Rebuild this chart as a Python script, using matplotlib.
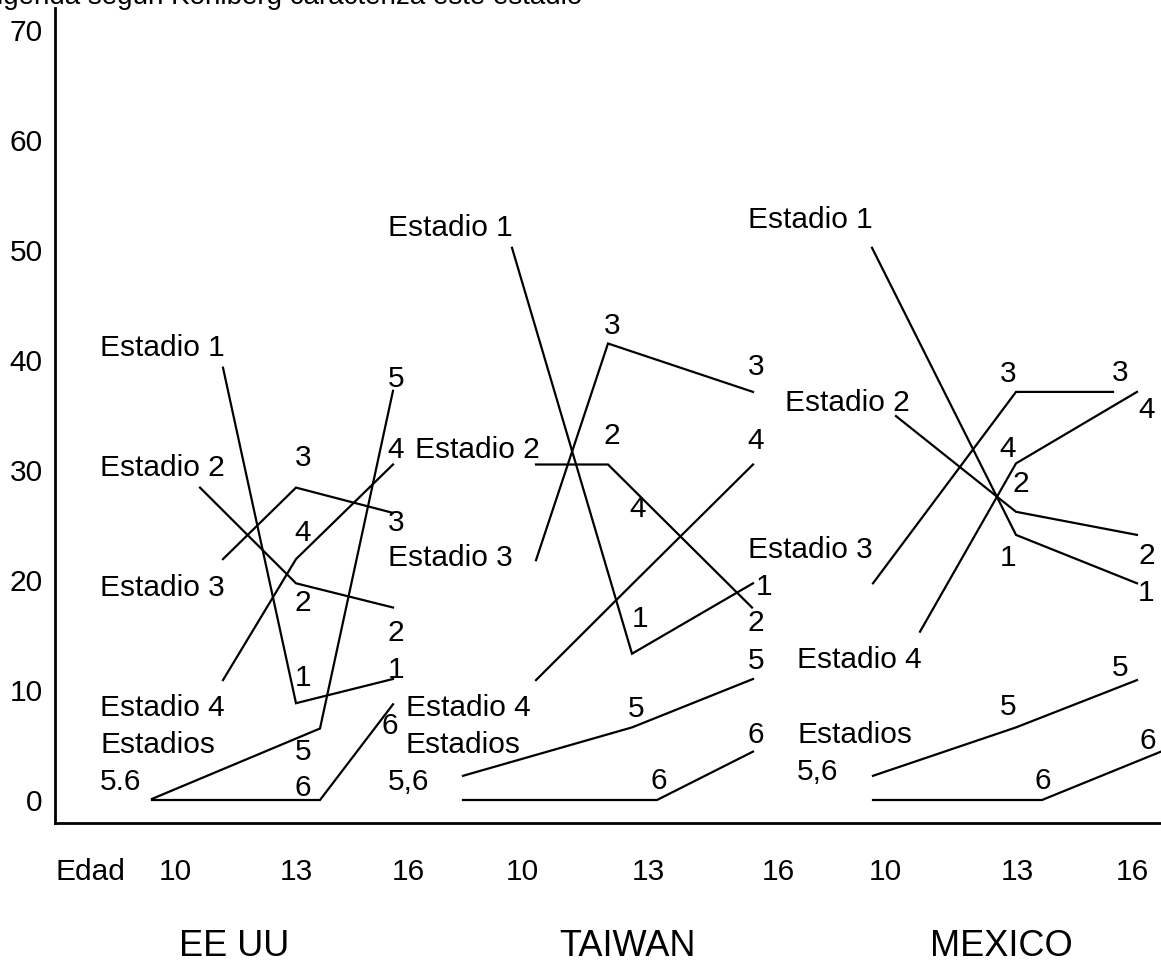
import matplotlib.pyplot as plt
from matplotlib.transforms import Bbox

plt.rcParams['font.family'] = ['Liberation Sans', 'DejaVu Sans']

# --- datos: porcentaje de razonamiento por estadio (1..6) a las edades 10, 13, 16 ---
ages = ["10", "13", "16"]
countries = ["EE UU", "TAIWAN", "MEXICO"]
y_ticks = [0, 10, 20, 30, 40, 50, 60, 70]

eeuu = [
    [39.3, 8.8, 11.0],
    [28.4, 19.7, 17.5],
    [21.9, 28.4, 26.1],
    [10.9, 21.9, 30.5],
    [0.1, 6.5, 37.2],
    [0.0, 0.0, 8.7],
]
taiwan = [
    [50.2, 13.3, 19.7],
    [30.5, 30.5, 17.5],
    [21.8, 41.5, 37.1],
    [10.9, 19.6, 30.5],
    [2.2, 6.6, 11.0],
    [0.0, 0.0, 4.4],
]
mexico = [
    [50.2, 24.1, 19.7],
    [34.9, 26.2, 24.1],
    [19.7, 37.1, 37.1],
    [15.3, 30.6, 37.1],
    [2.2, 6.6, 10.9],
    [0.0, 0.0, 4.4],
]

# --- maqueta (posiciones horizontales en px de la figura) ---
W, H = 1161, 965
x_eeuu = [[223, 296, 393], [200, 296, 393], [223, 296, 393],
          [223, 296, 393], [152, 320, 393], [152, 320, 393]]
x_taiwan = [[512, 632, 753], [536, 608, 752], [536, 608, 753],
            [536, 632, 753], [463, 632, 753], [463, 657, 753]]
x_mexico = [[872, 1016, 1137], [896, 1016, 1137], [873, 1016, 1113],
            [920, 1016, 1137], [873, 1016, 1137], [873, 1042, 1161]]

stage_labels = [
    [("Estadio 1", 100, 348), ("Estadio 2", 100, 468), ("Estadio 3", 100, 588),
     ("Estadio 4", 100, 708), ("Estadios", 100, 745), ("5,6", 100, 782)],
    [("Estadio 1", 388, 228), ("Estadio 2", 415, 450), ("Estadio 3", 388, 558),
     ("Estadio 4", 406, 708), ("Estadios", 406, 745), ("5,6", 388, 782)],
    [("Estadio 1", 748, 220), ("Estadio 2", 785, 403), ("Estadio 3", 748, 550),
     ("Estadio 4", 797, 660), ("Estadios", 797, 735), ("5,6", 797, 772)],
]
# numeros junto a los vertices: (estadio, x centro, y centro) en px
num_labels = [
    [(3, 303, 458), (4, 303, 533), (2, 303, 603), (1, 303, 678), (5, 303, 752), (6, 303, 788),
     (5, 396, 379), (4, 396, 450), (3, 396, 523), (2, 396, 633), (1, 396, 670), (6, 390, 726)],
    [(3, 612, 326), (2, 612, 436), (4, 638, 509), (1, 640, 619), (5, 636, 709), (6, 659, 781),
     (3, 756, 367), (4, 756, 441), (1, 764, 587), (2, 756, 623), (5, 756, 661), (6, 756, 735)],
    [(3, 1008, 374), (4, 1008, 449), (2, 1021, 484), (1, 1008, 558), (5, 1008, 707), (6, 1043, 781),
     (3, 1120, 373), (4, 1147, 410), (2, 1147, 556), (1, 1146, 593), (5, 1120, 668), (6, 1148, 741)],
]
age_x = [[175, 296, 408], [522, 648, 778], [885, 1017, 1132]]
country_x = [234, 627, 1001]

FS = 21.5


def fx(x):
    return x / W


def fy(y):
    return 1 - y / H


fig = plt.figure(figsize=(W / 100, H / 100), dpi=100)
ax = fig.add_axes([fx(55), fy(823), (W - 55) / W, (823 - 8) / H])
ax.set_xlim(55, W)
ax.set_ylim((800 - 823) / 11, (800 - 8) / 11)
for s in ["top", "right"]:
    ax.spines[s].set_visible(False)
for s in ["left", "bottom"]:
    ax.spines[s].set_linewidth(2)
ax.set_xticks([])
ax.set_yticks(y_ticks)
ax.tick_params(axis="y", length=0, pad=9, labelsize=FS)

for values, xs in [(eeuu, x_eeuu), (taiwan, x_taiwan), (mexico, x_mexico)]:
    for v, x in zip(values, xs):
        ax.plot(x, v, color="black", lw=1.6, clip_on=False, solid_joinstyle="miter")

for labels in stage_labels:
    for txt, x, y in labels:
        t = fig.text(fx(x), fy(y), txt, fontsize=FS, ha="left", va="center")
        if txt == "5,6" and x == 100:
            t.set_clip_box(Bbox([[0, H - 790], [W, H]]))
            t.set_clip_on(True)

for labels in num_labels:
    for n, x, y in labels:
        fig.text(fx(x), fy(y), str(n), fontsize=FS, ha="center", va="center")

fig.text(fx(56), fy(872), "Edad", fontsize=FS, ha="left", va="center")
for xs, name, cx in zip(age_x, countries, country_x):
    for a, x in zip(ages, xs):
        fig.text(fx(x), fy(872), a, fontsize=FS, ha="center", va="center")
    fig.text(fx(cx), fy(956), name, fontsize=26, ha="center", va="baseline")

fig.text(fx(-3), fy(4), "igenda según Kohlberg caracteriza este estadio",
         fontsize=20, ha="left", va="baseline")

fig.savefig("out.png", dpi=100, facecolor="white")
